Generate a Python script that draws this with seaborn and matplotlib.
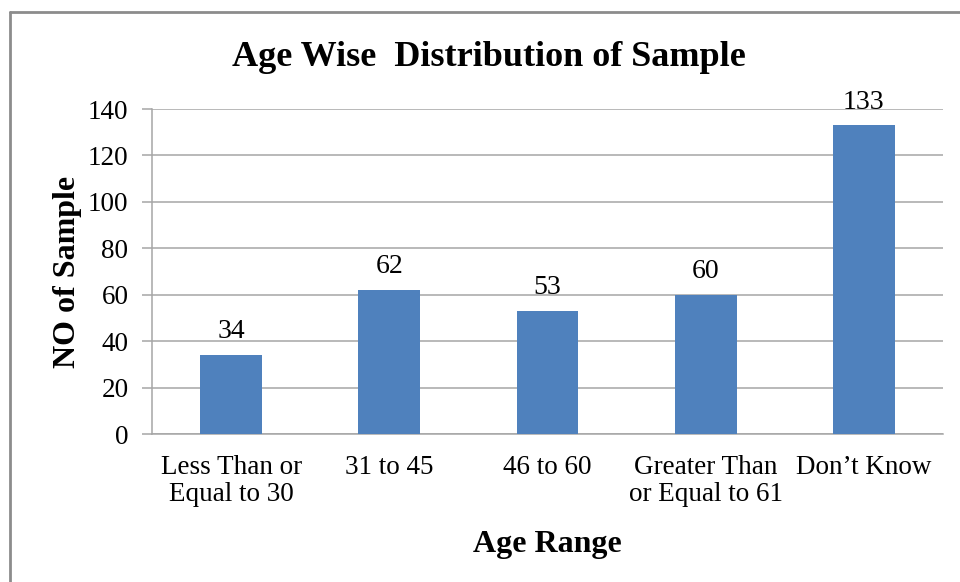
import matplotlib
matplotlib.use("Agg")
import matplotlib.pyplot as plt
from matplotlib.lines import Line2D
import seaborn as sns
import pandas as pd

categories = ["Less Than or\nEqual to 30", "31 to 45", "46 to 60",
              "Greater Than\nor Equal to 61", "Don\u2019t Know"]
counts = [34, 62, 53, 60, 133]
y_ticks = [0, 20, 40, 60, 80, 100, 120, 140]

df = pd.DataFrame({"range": categories, "count": counts})

sns.set_theme(style="white")
plt.rcParams["font.family"] = ["Liberation Serif", "DejaVu Serif"]

fig = plt.figure(figsize=(9.6, 5.82), dpi=100)
ax = fig.add_axes([152 / 960, 1 - 434 / 582, (943 - 152) / 960, (434 - 109) / 582])

sns.barplot(data=df, x="range", y="count", ax=ax, color="#4F81BD",
            saturation=1, width=0.39, edgecolor="none", zorder=3)

ax.set_ylim(0, 140)
ax.set_xlim(-0.5, len(categories) - 0.5)
ax.set_yticks(y_ticks)
ax.yaxis.grid(True, color="#A6A6A6", linewidth=1.1, zorder=0)
ax.set_axisbelow(True)

for side in ["top", "right"]:
    ax.spines[side].set_visible(False)
for side in ["left", "bottom"]:
    ax.spines[side].set_color("#A6A6A6")
    ax.spines[side].set_linewidth(1.1)

ax.tick_params(axis="y", length=7, width=1.1, color="#A6A6A6", left=True,
               labelsize=19.5, pad=10, labelcolor="black")
ax.tick_params(axis="x", length=0, labelsize=19.5, pad=15, labelcolor="black")
for lbl in ax.get_xticklabels():
    lbl.set_linespacing(1.13)

for i, v in enumerate(counts):
    ax.annotate(str(v), xy=(i, v), xytext=(0, 12), textcoords="offset points",
                ha="center", va="baseline", fontsize=20, color="black")

ax.set_xlabel("Age Range", fontsize=23, fontweight="bold", color="black", labelpad=16)
ax.set_ylabel("NO of Sample", fontsize=23, fontweight="bold", color="black")
ax.yaxis.set_label_coords(-(152 - 82) / (943 - 152), 0.5)
fig.text(489 / 960, 1 - 57 / 582, "Age Wise  Distribution of Sample", ha="center",
         va="center", fontsize=26, fontweight="bold", color="black")

# outer chart border (top and left edges)
fig.add_artist(Line2D([10 / 960, 1.0], [1 - 12 / 582, 1 - 12 / 582],
                      transform=fig.transFigure, color="#8C8C8C", linewidth=2))
fig.add_artist(Line2D([10 / 960, 10 / 960], [1 - 12 / 582, 0.0],
                      transform=fig.transFigure, color="#8C8C8C", linewidth=2))

fig.savefig("out.png", dpi=100, facecolor="white")
